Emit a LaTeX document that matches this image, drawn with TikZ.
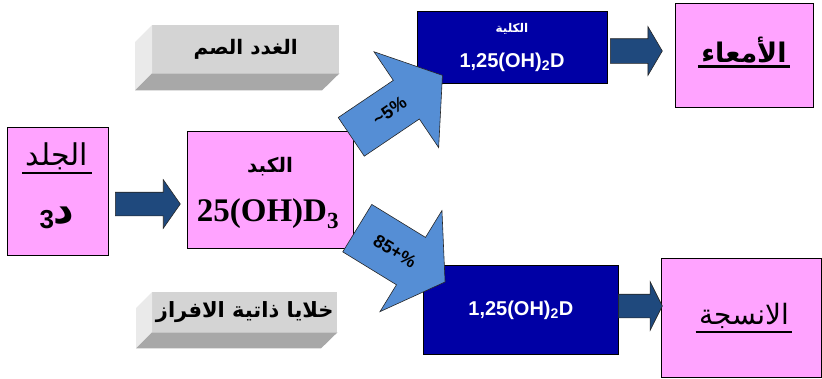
\documentclass[tikz,border=0pt]{standalone}
\usepackage{fontspec}
\setmainfont{Liberation Sans}
\newfontfamily\arabicfont[Script=Arabic]{DejaVu Sans}
\newfontfamily\timesfont{Liberation Serif}
\TeXXeTstate=1
\usetikzlibrary{shapes.arrows,calc}

\definecolor{pinkfill}{RGB}{255,163,255}
\definecolor{navyfill}{RGB}{0,0,165}
\definecolor{arrowblue}{RGB}{31,73,125}
\definecolor{skyblue}{RGB}{85,142,213}
\definecolor{bevelfront}{RGB}{212,212,212}
\definecolor{bevelleft}{RGB}{234,234,234}
\definecolor{bevelbottom}{RGB}{168,168,168}

\begin{document}
\begin{tikzpicture}[
  x=1pt, y=-1pt,
  box/.style={draw=black, line width=0.8pt, anchor=north west, inner sep=0pt},
  pinkbox/.style={box, fill=pinkfill},
  navybox/.style={box, fill=navyfill},
  bevel/.style={anchor=north west, fill=bevelfront, inner sep=0pt},
  whitetxt/.style={text=white, font=\bfseries\fontsize{20}{20}\selectfont},
  artxt/.style={font=\arabicfont\bfseries\fontsize{#1}{#1}\selectfont},
  uline/.style={line width=2.5pt},
  flow/.style={single arrow, draw=black!85, fill=arrowblue, anchor=tail,
               inner xsep=0pt, line width=0.6pt},
  bigflow/.style={single arrow, draw=black!85, fill=skyblue, anchor=tail,
                  inner xsep=0pt, line width=0.6pt},
  flowlabel/.style={font=\bfseries\fontsize{18}{18}\selectfont, inner sep=1pt},
]
  \useasboundingbox (0,0) rectangle (822,378);

  % skin
  \node[pinkbox, minimum width=101, minimum height=128] (skin) at (7,127) {};
  \node[font=\arabicfont\fontsize{30}{30}\selectfont] (skinname) at (57,156) {\beginR الجلد\endR};
  \draw[uline] (skinname.south west) -- (skinname.south east);
  \node (skinform) at (57,218) {\raisebox{-5pt}{\bfseries\fontsize{26}{26}\selectfont 3}{\arabicfont\bfseries\fontsize{40}{40}\selectfont\beginR د\endR}};

  % liver
  \node[pinkbox, minimum width=166, minimum height=117] (liver) at (187,131) {};
  \node[artxt=20] (livername) at (270,167) {\beginR الكبد\endR};
  \node[font=\timesfont\bfseries\fontsize{33}{33}\selectfont] (liverform) at (268,214) {25(OH)D\textsubscript{3}};

  % endocrine glands
  \node[bevel, minimum width=187, minimum height=48] (gland) at (152,25) {};
  \fill[bevelleft] (gland.north west) -- ++(-17,17) -- ++(0,48) -- (gland.south west) -- cycle;
  \fill[bevelbottom] (gland.south west) -- ++(-17,17) -- ++(187,0) -- (gland.south east) -- cycle;
  \node[artxt=20] (glandname) at (gland.center) {\beginR الغدد الصم\endR};

  \node[bevel, minimum width=185, minimum height=40] (secret) at (152,292) {};
  \fill[bevelleft] (secret.north west) -- ++(-16,16) -- ++(0,40) -- (secret.south west) -- cycle;
  \fill[bevelbottom] (secret.south west) -- ++(-16,16) -- ++(185,0) -- (secret.south east) -- cycle;
  \node[artxt=21] (secretname) at (secret.center) {\beginR خلايا ذاتية الافراز\endR};

  % kidney and cells
  \node[navybox, minimum width=190, minimum height=72] (kidney) at (417,11) {};
  \node[artxt=12, text=white] (kidneyname) at (512,29) {\beginR الكلية\endR};
  \node[whitetxt] (kidneyform) at (512,62) {1,25(OH)\textsubscript{2}D};

  \node[navybox, minimum width=195, minimum height=89] (cells) at (423,265) {};
  \node[whitetxt] (cellsform) at (cells.center) {1,25(OH)\textsubscript{2}D};

  % targets
  \node[pinkbox, minimum width=138, minimum height=104] (gut) at (675,3) {};
  \node[artxt=27] (gutname) at (744,50) {\beginR الأمعاء\endR};
  \draw[uline] (gutname.south west) -- (gutname.south east);

  \node[pinkbox, minimum width=160, minimum height=119] (tissue) at (661,258) {};
  \node[font=\arabicfont\fontsize{28}{28}\selectfont] (tissuename) at (744,316) {\beginR الانسجة\endR};
  \draw[uline] (tissuename.south west) -- (tissuename.south east);

  % arrows
  \node[flow, minimum height=65, inner ysep=11.5, single arrow head extend=12.5,
        single arrow tip angle=110] (a1) at (115,204) {};
  \node[flow, minimum height=52, inner ysep=12, single arrow head extend=12,
        single arrow tip angle=119] (a2) at (610,51) {};
  \node[flow, minimum height=44, inner ysep=11.5, single arrow head extend=12.5,
        single arrow tip angle=127] (a3) at (618,306) {};

  \node[bigflow, rotate=34, minimum height=110, inner ysep=23,
        single arrow head extend=34.5, single arrow tip angle=106] (up) at (351,137) {};
  \node[bigflow, rotate=-31.5, minimum height=103, inner ysep=27.5,
        single arrow head extend=31.5, single arrow tip angle=112] (down) at (357,228) {};
  \node[flowlabel, rotate=34] (uplabel) at ($(up.tail)!0.42!(up.tip)$) {\textasciitilde5\%};
  \node[flowlabel, rotate=-31.5] (downlabel) at ($(down.tail)!0.43!(down.tip)$) {85+\%};
\end{tikzpicture}
\end{document}
